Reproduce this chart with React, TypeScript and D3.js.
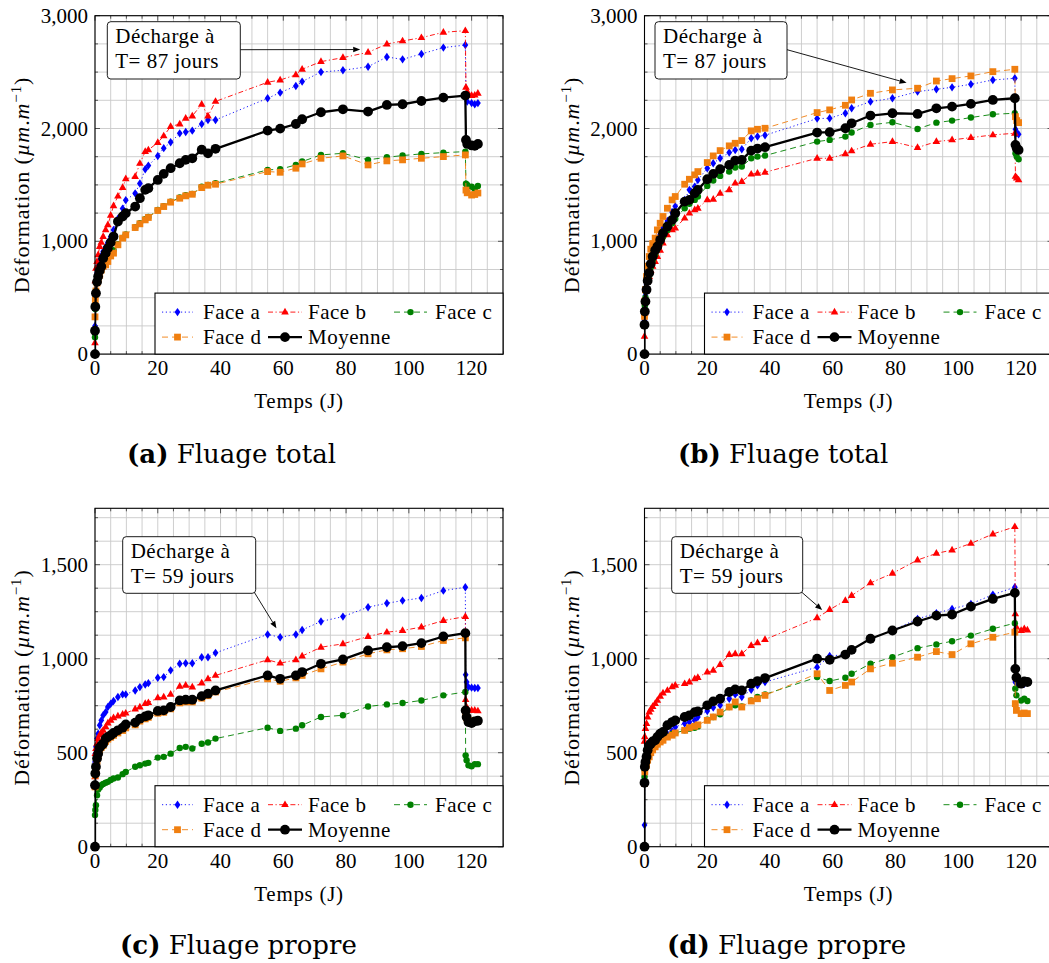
import React from 'react';
import * as d3 from 'd3';

// ---------- DATA ----------
// common measurement times (days) during loading
const T = [0, 0.1, 0.3, 0.65, 1, 1.5, 2, 2.6, 3.4, 4.1, 5, 5.9, 7.3, 8.8, 9.8, 12.8, 14.3, 16, 17, 20, 21.9, 24.1, 27, 28.9, 31, 34, 36, 38.4, 55, 59, 64, 66, 72, 79, 87, 93, 98, 104, 111, 118];
const MOY_START = 0; // Moyenne first value at t = 0

// (a) Fluage total
const A_FACE_A = [250, 560, 650, 720, 780, 830, 870, 910, 950, 990, 1040, 1100, 1200, 1290, 1365, 1425, 1513, 1639, 1671, 1756, 1826, 1878, 1957, 1969, 1981, 2040, 2075, 2076, 2268, 2318, 2377, 2416, 2501, 2516, 2548, 2634, 2613, 2661, 2717, 2740];
const A_FACE_B = [100, 650, 760, 820, 880, 954, 990, 1042, 1101, 1146, 1230, 1314, 1400, 1476, 1553, 1574, 1690, 1795, 1810, 1875, 1934, 2017, 2040, 2091, 2111, 2215, 2110, 2240, 2410, 2430, 2475, 2525, 2593, 2628, 2675, 2749, 2776, 2805, 2853, 2867];
const A_FACE_C = [150, 400, 560, 640, 680, 720, 760, 790, 815, 840, 900, 920, 975, 1030, 1060, 1125, 1160, 1195, 1215, 1278, 1312, 1350, 1388, 1408, 1420, 1485, 1500, 1515, 1633, 1639, 1677, 1707, 1766, 1780, 1722, 1745, 1760, 1775, 1786, 1795];
const A_FACE_D = [330, 480, 560, 630, 660, 700, 745, 777, 791, 821, 870, 895, 969, 1028, 1057, 1122, 1155, 1190, 1211, 1273, 1308, 1347, 1382, 1403, 1417, 1476, 1497, 1506, 1618, 1612, 1648, 1686, 1736, 1757, 1677, 1713, 1722, 1736, 1751, 1766];
const A_MOY = [207, 420, 540, 640, 688, 740, 777, 850, 895, 939, 990, 1042, 1175, 1220, 1249, 1308, 1382, 1456, 1471, 1544, 1598, 1648, 1692, 1722, 1736, 1812, 1780, 1820, 1981, 1999, 2040, 2082, 2144, 2170, 2150, 2209, 2215, 2244, 2274, 2292];
const A_UNLOAD_T = [118.2, 118.6, 120, 121, 122];
const A_FACE_A_U = [2280, 2240, 2225, 2215, 2225];
const A_FACE_B_U = [2365, 2327, 2292, 2295, 2312];
const A_FACE_C_U = [1510, 1499, 1484, 1465, 1490];
const A_FACE_D_U = [1454, 1430, 1410, 1415, 1428];
const A_MOY_U = [1899, 1863, 1850, 1846, 1863];

// (b) Fluage total
const B_FACE_A = [300, 420, 520, 620, 700, 770, 850, 910, 960, 1000, 1060, 1120, 1180, 1260, 1310, 1367, 1456, 1485, 1544, 1648, 1692, 1736, 1787, 1810, 1816, 1914, 1929, 1940, 2088, 2091, 2135, 2179, 2238, 2268, 2327, 2348, 2365, 2392, 2430, 2445];
const B_FACE_B = [157, 363, 481, 600, 650, 688, 740, 777, 820, 865, 920, 983, 1057, 1101, 1116, 1205, 1249, 1279, 1293, 1367, 1373, 1426, 1456, 1515, 1530, 1595, 1603, 1612, 1736, 1736, 1775, 1801, 1860, 1884, 1831, 1884, 1899, 1919, 1943, 1958];
const B_FACE_C = [363, 430, 500, 580, 640, 700, 770, 830, 880, 930, 990, 1040, 1100, 1160, 1200, 1293, 1332, 1367, 1397, 1491, 1539, 1580, 1618, 1654, 1663, 1736, 1751, 1760, 1884, 1899, 1928, 1964, 2032, 2055, 1996, 2052, 2070, 2097, 2126, 2135];
const B_FACE_D = [334, 470, 570, 688, 780, 865, 930, 980, 1028, 1101, 1160, 1220, 1293, 1367, 1397, 1506, 1550, 1589, 1618, 1698, 1757, 1804, 1846, 1869, 1893, 1979, 1993, 2002, 2141, 2165, 2206, 2253, 2312, 2342, 2357, 2421, 2442, 2466, 2504, 2525];
const B_MOY = [260, 378, 467, 570, 650, 720, 800, 865, 920, 954, 1013, 1072, 1131, 1190, 1249, 1352, 1367, 1426, 1456, 1550, 1598, 1639, 1677, 1716, 1722, 1804, 1822, 1834, 1964, 1967, 2002, 2046, 2115, 2135, 2129, 2179, 2194, 2218, 2253, 2268];
const B_UNLOAD_T = [118.2, 118.6, 119.2];
const B_FACE_A_U = [1993, 1960, 1949];
const B_FACE_B_U = [1575, 1560, 1544];
const B_FACE_C_U = [1781, 1751, 1728];
const B_FACE_D_U = [2105, 2070, 2052];
const B_MOY_U = [1855, 1825, 1810];

// (c) Fluage propre
const C_FACE_A = [451, 495, 531, 575, 601, 646, 672, 699, 716, 743, 760, 775, 796, 810, 810, 831, 849, 863, 870, 899, 902, 938, 973, 976, 976, 1008, 1008, 1031, 1129, 1114, 1129, 1153, 1198, 1224, 1274, 1295, 1309, 1323, 1362, 1380];
const C_FACE_B = [371, 495, 522, 548, 575, 593, 607, 619, 637, 658, 672, 685, 695, 704, 710, 732, 743, 761, 766, 792, 796, 810, 853, 858, 849, 870, 893, 911, 994, 976, 994, 1014, 1061, 1079, 1118, 1141, 1150, 1168, 1203, 1224];
const C_FACE_C = [168, 195, 221, 274, 304, 315, 327, 334, 340, 345, 355, 363, 368, 386, 398, 425, 433, 442, 446, 474, 478, 495, 525, 531, 522, 548, 554, 575, 633, 616, 628, 646, 690, 699, 746, 757, 764, 778, 805, 823];
const C_FACE_D = [318, 380, 415, 455, 485, 515, 528, 538, 560, 572, 582, 592, 605, 618, 632, 648, 668, 680, 688, 710, 715, 733, 765, 770, 770, 790, 803, 823, 893, 880, 898, 911, 946, 982, 1026, 1047, 1053, 1065, 1097, 1111];
const C_MOY = [327, 389, 425, 469, 495, 527, 539, 548, 575, 584, 593, 605, 619, 633, 650, 660, 681, 693, 699, 722, 725, 743, 778, 782, 782, 801, 814, 831, 911, 893, 911, 929, 973, 996, 1044, 1061, 1067, 1083, 1118, 1136];
const C_UNLOAD_T = [118.1, 118.4, 119, 120, 121, 122];
const C_FACE_A_U = [915, 876, 849, 846, 844, 844];
const C_FACE_B_U = [782, 743, 725, 725, 725, 722];
const C_FACE_C_U = [486, 460, 433, 428, 439, 439];
const C_FACE_D_U = [700, 685, 672, 669, 669, 670];
const C_MOY_U = [725, 690, 663, 658, 667, 670];

// (d) Fluage propre
const D_FACE_A = [115, 420, 450, 475, 500, 520, 530, 545, 555, 565, 575, 590, 600, 615, 637, 655, 663, 672, 690, 722, 740, 752, 787, 810, 796, 835, 858, 876, 955, 1014, 1022, 1047, 1106, 1150, 1212, 1242, 1265, 1291, 1341, 1380];
const D_FACE_B = [560, 584, 628, 655, 690, 716, 730, 745, 761, 778, 800, 817, 831, 850, 858, 867, 876, 893, 900, 929, 938, 969, 1022, 1026, 1026, 1070, 1084, 1102, 1217, 1261, 1309, 1336, 1403, 1454, 1525, 1560, 1578, 1613, 1663, 1702];
const D_FACE_C = [371, 407, 442, 460, 486, 500, 513, 520, 531, 548, 560, 575, 587, 600, 605, 619, 628, 633, 640, 676, 690, 704, 743, 752, 746, 778, 796, 810, 902, 881, 899, 920, 973, 1008, 1056, 1076, 1093, 1123, 1159, 1189];
const D_FACE_D = [336, 398, 425, 433, 460, 478, 500, 515, 531, 545, 557, 566, 583, 593, 605, 619, 633, 640, 648, 672, 690, 716, 743, 770, 743, 775, 787, 805, 920, 831, 858, 876, 946, 976, 1008, 1038, 1022, 1079, 1114, 1141];
const D_MOY = [340, 425, 451, 478, 513, 539, 548, 560, 566, 584, 601, 610, 646, 663, 672, 690, 699, 716, 720, 752, 773, 787, 823, 837, 831, 867, 881, 897, 1000, 994, 1022, 1047, 1106, 1150, 1198, 1229, 1235, 1277, 1318, 1350];
const D_UNLOAD_T = [118.15, 118.5, 120, 121, 122];
const D_FACE_A_U = [876, 870, 867, 867, 876];
const D_FACE_B_U = [1238, 1168, 1150, 1159, 1152];
const D_FACE_C_U = [840, 805, 778, 787, 775];
const D_FACE_D_U = [761, 725, 708, 711, 708];
const D_MOY_U = [946, 900, 867, 879, 876];

const SERIES_NAMES = ['Face a', 'Face b', 'Face c', 'Face d', 'Moyenne'];
const X_TICKS = [0, 20, 40, 60, 80, 100, 120];
const Y_TICKS_TOTAL = [0, 1000, 2000, 3000];
const Y_TICKS_PROPRE = [0, 500, 1000, 1500];
const CAPTIONS = [['(a)', 'Fluage total'], ['(b)', 'Fluage total'], ['(c)', 'Fluage propre'], ['(d)', 'Fluage propre']];
const ANNOT_LINE1 = 'Décharge à';
const ANNOT_LINE2 = ['T= 87 jours', 'T= 87 jours', 'T= 59 jours', 'T= 59 jours'];
const ANNOT_TARGET: [number, number][] = [[84.5, 2700], [83.5, 2405], [57.8, 1162], [56.6, 1259]];

// ---------- STYLE ----------
const FONT = '"Liberation Serif", "Times New Roman", serif';
const STYLES = [
  { color: '#0000ff', dash: '1.2 2.6', width: 0.9, marker: 'diamond' },
  { color: '#ff0000', dash: '5 2.5 1.2 2.5', width: 0.9, marker: 'triangle' },
  { color: '#008000', dash: '6 4', width: 0.9, marker: 'circle' },
  { color: '#f07f10', dash: '6 4', width: 0.9, marker: 'square' },
  { color: '#000000', dash: undefined as string | undefined, width: 2.3, marker: 'big' },
];
const PW = 408;
const PH = 338.4;

function Marker({ kind, x, y, color }: { kind: string; x: number; y: number; color: string }) {
  if (kind === 'diamond')
    return <polygon points={`${x},${y - 4.2} ${x + 2.9},${y} ${x},${y + 4.2} ${x - 2.9},${y}`} fill={color} />;
  if (kind === 'triangle')
    return <polygon points={`${x},${y - 4.3} ${x + 3.8},${y + 2.4} ${x - 3.8},${y + 2.4}`} fill={color} />;
  if (kind === 'circle') return <circle cx={x} cy={y} r={3.2} fill={color} />;
  if (kind === 'square') return <rect x={x - 3.4} y={y - 3.4} width={6.8} height={6.8} fill={color} />;
  return <circle cx={x} cy={y} r={4.9} fill={color} />;
}

function arrow(x1: number, y1: number, x2: number, y2: number) {
  const a = Math.atan2(y2 - y1, x2 - x1);
  const L = 7, W = 2.8;
  const bx = x2 - L * Math.cos(a), by = y2 - L * Math.sin(a);
  const px = -Math.sin(a) * W, py = Math.cos(a) * W;
  return (
    <g>
      <line x1={x1} y1={y1} x2={bx} y2={by} stroke="#000" strokeWidth={0.9} />
      <polygon points={`${x2},${y2} ${bx + px},${by + py} ${bx - px},${by - py}`} fill="#000" />
    </g>
  );
}

type PanelProps = {
  idx: number;
  left: number;
  top: number;
  yMax: number;
  yTicks: number[];
  yMinorStep: number;
  faces: number[][];
  moy: number[];
  unloadT: number[];
  facesU: number[][];
  moyU: number[];
  box: [number, number, number, number];
  arrowFromCorner: boolean;
};

function Panel(p: PanelProps) {
  const { left, top, idx } = p;
  const x = d3.scaleLinear().domain([0, 130]).range([left, left + PW]);
  const y = d3.scaleLinear().domain([0, p.yMax]).range([top + PH, top]);
  const bottom = top + PH, right = left + PW;
  const xGrid = d3.range(0, 131, 5);
  const yGrid = d3.range(0, p.yMax + 1, p.yMinorStep);
  const line = d3.line<[number, number]>().x((d) => x(d[0])).y((d) => y(d[1]));
  const clipId = `clip${idx}`;

  const seriesPts: [number, number][][] = [0, 1, 2, 3].map((s) => [
    ...T.map((t, i) => [t, p.faces[s][i]] as [number, number]),
    ...p.unloadT.map((t, i) => [t, p.facesU[s][i]] as [number, number]),
  ]);
  seriesPts.push([
    [0, MOY_START],
    ...T.map((t, i) => [t, p.moy[i]] as [number, number]),
    ...p.unloadT.map((t, i) => [t, p.moyU[i]] as [number, number]),
  ]);

  const fmt = d3.format(',');
  const [bx, by, bw, bh] = p.box;
  const boxX = left + bx, boxY = top + by;
  const tgt = ANNOT_TARGET[idx];
  const legL = left + 60, legT = bottom - 61;
  const row = [bottom - 42, bottom - 17];
  const cols = [
    { s0: 7, s1: 38, tx: 48 },
    { s0: 113, s1: 147, tx: 153 },
    { s0: 239, s1: 272, tx: 280 },
  ];
  const legendPos = [
    [0, 0], [1, 0], [2, 0], [0, 1], [1, 1],
  ];

  return (
    <g>
      <defs>
        <clipPath id={clipId}>
          <rect x={left} y={top} width={PW} height={PH} />
        </clipPath>
      </defs>
      {/* grid */}
      {xGrid.map((v) => (
        <line key={'gx' + v} x1={x(v)} x2={x(v)} y1={top} y2={bottom} stroke="#c8c8c8" strokeWidth={0.9} />
      ))}
      {yGrid.map((v) => (
        <line key={'gy' + v} x1={left} x2={right} y1={y(v)} y2={y(v)} stroke="#c8c8c8" strokeWidth={0.9} />
      ))}
      {/* ticks inside on all sides */}
      {xGrid.map((v) => {
        const len = v % 20 === 0 ? 5 : 3;
        return (
          <g key={'tx' + v}>
            <line x1={x(v)} x2={x(v)} y1={bottom} y2={bottom - len} stroke="#444" strokeWidth={0.9} />
            <line x1={x(v)} x2={x(v)} y1={top} y2={top + len} stroke="#444" strokeWidth={0.9} />
          </g>
        );
      })}
      {yGrid.map((v) => {
        const len = p.yTicks.includes(v) ? 5 : 3;
        return (
          <g key={'ty' + v}>
            <line x1={left} x2={left + len} y1={y(v)} y2={y(v)} stroke="#444" strokeWidth={0.9} />
            <line x1={right} x2={right - len} y1={y(v)} y2={y(v)} stroke="#444" strokeWidth={0.9} />
          </g>
        );
      })}
      {/* series */}
      {seriesPts.map((pts, s) => {
        const st = STYLES[s];
        return (
          <g key={'s' + s}>
            <path
              d={line(pts) || ''}
              fill="none"
              stroke={st.color}
              strokeWidth={st.width}
              strokeDasharray={st.dash}
              strokeLinejoin="round"
              clipPath={`url(#${clipId})`}
            />
            {pts.map((d, i) => (
              <Marker key={i} kind={st.marker} x={x(d[0])} y={y(d[1])} color={st.color} />
            ))}
          </g>
        );
      })}
      {/* frame */}
      <rect x={left} y={top} width={PW} height={PH} fill="none" stroke="#000" strokeWidth={1.1} />
      {/* tick labels */}
      {X_TICKS.map((v) => (
        <text key={'xl' + v} x={x(v)} y={bottom + 21} textAnchor="middle" fontSize={21} fontFamily={FONT}>
          {v}
        </text>
      ))}
      {p.yTicks.map((v) => (
        <text key={'yl' + v} x={left - 7} y={y(v) + 7} textAnchor="end" fontSize={21} fontFamily={FONT}>
          {fmt(v)}
        </text>
      ))}
      {/* axis labels */}
      <text x={left + PW / 2} y={bottom + 54} textAnchor="middle" fontSize={21} fontFamily={FONT} letterSpacing={0.7}>
        Temps (J)
      </text>
      <text
        transform={`translate(${left - 66},${top + PH / 2}) rotate(-90)`}
        textAnchor="middle"
        fontSize={22}
        fontFamily={FONT}
        letterSpacing={0.9}
      >
        {'Déformation ('}
        <tspan fontStyle="italic">µm</tspan>
        <tspan>.</tspan>
        <tspan fontStyle="italic">m</tspan>
        <tspan dy={-8} fontSize={15}>
          {'−1'}
        </tspan>
        <tspan dy={8}>)</tspan>
      </text>
      {/* legend */}
      <rect x={legL} y={legT} width={right - legL} height={bottom - legT} fill="#fff" stroke="#000" strokeWidth={1.1} />
      {SERIES_NAMES.map((name, s) => {
        const [c, r] = legendPos[s];
        const col = cols[c];
        const st = STYLES[s];
        const cy = row[r];
        const mx = legL + (col.s0 + col.s1) / 2;
        return (
          <g key={'lg' + s}>
            <line
              x1={legL + col.s0}
              x2={legL + col.s1}
              y1={cy}
              y2={cy}
              stroke={st.color}
              strokeWidth={st.width}
              strokeDasharray={st.dash}
            />
            <Marker kind={st.marker} x={mx} y={cy} color={st.color} />
            <text x={legL + col.tx} y={cy + 7} fontSize={21} fontFamily={FONT} letterSpacing={0.5}>
              {name}
            </text>
          </g>
        );
      })}
      {/* annotation */}
      {p.arrowFromCorner
        ? arrow(boxX + bw - 2, boxY + bh - 2, x(tgt[0]), y(tgt[1]))
        : arrow(boxX + bw, boxY + 28, x(tgt[0]), y(tgt[1]))}
      <rect x={boxX} y={boxY} width={bw} height={bh} rx={3.5} fill="#fff" stroke="#000" strokeWidth={0.9} />
      <text x={boxX + 8} y={boxY + 21.5} fontSize={21} fontFamily={FONT} letterSpacing={0.5}>
        {ANNOT_LINE1}
      </text>
      <text x={boxX + 8} y={boxY + 46.5} fontSize={21} fontFamily={FONT} letterSpacing={0.5}>
        {ANNOT_LINE2[idx]}
      </text>
    </g>
  );
}

const CAPTION_POS: [number, number][] = [[127, 463], [678, 463], [120, 954], [667, 954]];

export default function App() {
  const panels: PanelProps[] = [
    {
      idx: 0, left: 95, top: 15.7, yMax: 3000, yTicks: Y_TICKS_TOTAL, yMinorStep: 250,
      faces: [A_FACE_A, A_FACE_B, A_FACE_C, A_FACE_D], moy: A_MOY, unloadT: A_UNLOAD_T,
      facesU: [A_FACE_A_U, A_FACE_B_U, A_FACE_C_U, A_FACE_D_U], moyU: A_MOY_U,
      box: [12.3, 6, 133, 57.3], arrowFromCorner: false,
    },
    {
      idx: 1, left: 644.5, top: 15.7, yMax: 3000, yTicks: Y_TICKS_TOTAL, yMinorStep: 250,
      faces: [B_FACE_A, B_FACE_B, B_FACE_C, B_FACE_D], moy: B_MOY, unloadT: B_UNLOAD_T,
      facesU: [B_FACE_A_U, B_FACE_B_U, B_FACE_C_U, B_FACE_D_U], moyU: B_MOY_U,
      box: [10.5, 6, 132, 57.3], arrowFromCorner: false,
    },
    {
      idx: 2, left: 95, top: 508.3, yMax: 1800, yTicks: Y_TICKS_PROPRE, yMinorStep: 125,
      faces: [C_FACE_A, C_FACE_B, C_FACE_C, C_FACE_D], moy: C_MOY, unloadT: C_UNLOAD_T,
      facesU: [C_FACE_A_U, C_FACE_B_U, C_FACE_C_U, C_FACE_D_U], moyU: C_MOY_U,
      box: [27.7, 28.4, 133, 56.6], arrowFromCorner: true,
    },
    {
      idx: 3, left: 644.5, top: 508.3, yMax: 1800, yTicks: Y_TICKS_PROPRE, yMinorStep: 125,
      faces: [D_FACE_A, D_FACE_B, D_FACE_C, D_FACE_D], moy: D_MOY, unloadT: D_UNLOAD_T,
      facesU: [D_FACE_A_U, D_FACE_B_U, D_FACE_C_U, D_FACE_D_U], moyU: D_MOY_U,
      box: [27.2, 28.4, 131, 56.6], arrowFromCorner: true,
    },
  ];
  return (
    <svg
      width={1049}
      height={963}
      style={{ position: 'absolute', left: 0, top: 0, background: '#fff' }}
    >
      <rect x={0} y={0} width={1049} height={963} fill="#fff" />
      {panels.map((p) => (
        <Panel key={p.idx} {...p} />
      ))}
      {CAPTIONS.map(([lab, txt], i) => (
        <text key={'cap' + i} x={CAPTION_POS[i][0]} y={CAPTION_POS[i][1]} fontSize={26} fontFamily='"DejaVu Serif", serif'>
          <tspan fontWeight="bold">{lab}</tspan>
          {' ' + txt}
        </text>
      ))}
    </svg>
  );
}
